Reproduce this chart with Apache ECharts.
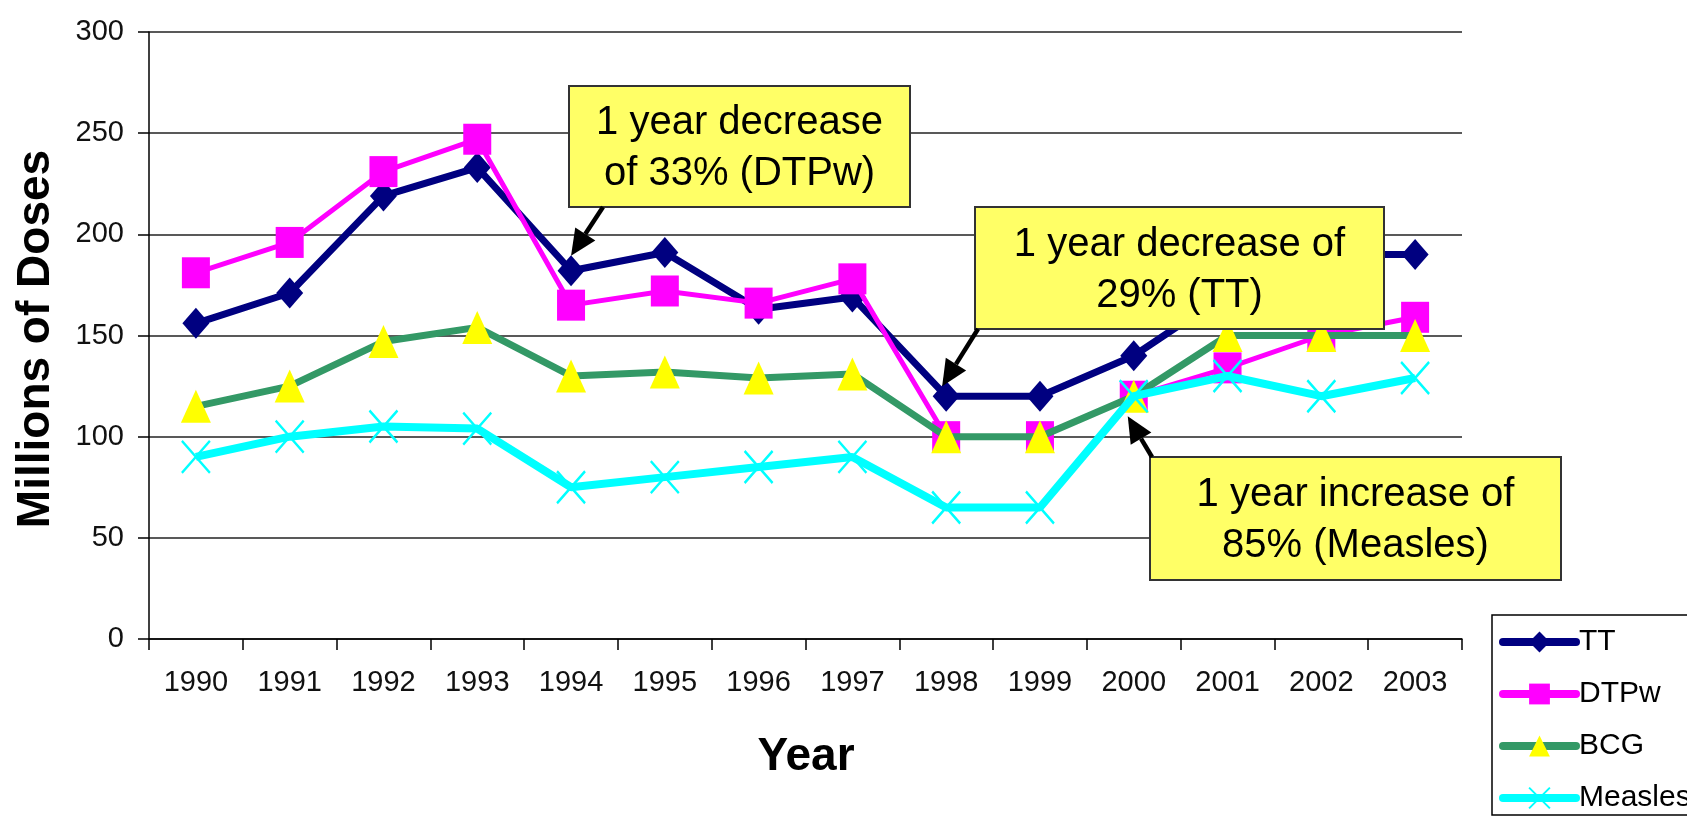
<!DOCTYPE html>
<html>
<head>
<meta charset="utf-8">
<script src="https://cdn.jsdelivr.net/npm/echarts@6/dist/echarts.min.js"></script>
<style>
html,body{margin:0;padding:0;background:#fff;}
#chart{width:1687px;height:821px;}
</style>
</head>
<body>
<div id="chart"></div>
<script>
const categories = ['1990','1991','1992','1993','1994','1995','1996','1997','1998','1999','2000','2001','2002','2003'];
const ttValues      = [156, 171, 219, 233, 182, 191, 163, 169, 120, 120, 140, 171, 190, 190];
const dtpwValues    = [181, 196, 231, 247, 165, 172, 166, 178, 100, 100, 120, 134, 150, 159];
const bcgValues     = [115, 125, 147, 154, 130, 132, 129, 131, 100, 100, 120, 150, 150, 150];
const measlesValues = [90, 100, 105, 104, 75, 80, 85, 90, 65, 65, 120, 130, 120, 129];
const seriesNames = ['TT', 'DTPw', 'BCG', 'Measles'];
const yMin = 0, yMax = 300, yInterval = 50;
const xTitle = 'Year';
const yTitle = 'Millions of Doses';
const note1 = '1 year decrease\nof 33% (DTPw)';
const note2 = '1 year decrease of\n29% (TT)';
const note3 = '1 year increase of\n85% (Measles)';

const FONT = '"Liberation Sans", Arial, Helvetica, sans-serif';
const chart = echarts.init(document.getElementById('chart'), null, {renderer: 'canvas'});

const option = {
  backgroundColor: '#fff',
  animation: false,
  grid: {left: 149, right: 225, top: 32, bottom: 182, containLabel: false},
  legend: {
    orient: 'vertical',
    left: 1492, top: 615,
    padding: [12, 8, 2, 7],
    itemGap: 22,
    itemWidth: 73, itemHeight: 26,
    borderColor: '#000', borderWidth: 1.5,
    backgroundColor: '#fff',
    lineStyle: {width: 8, cap: 'round'},
    textStyle: {fontFamily: FONT, fontSize: 30, color: '#000', padding: [0,0,0,-2]},
    data: seriesNames
  },
  xAxis: {
    type: 'category',
    data: categories,
    boundaryGap: true,
    axisLine: {lineStyle: {color: '#000', width: 1.5}},
    axisTick: {show: true, length: 11, interval: 0, lineStyle: {color: '#000', width: 1.5}},
    axisLabel: {fontFamily: FONT, fontSize: 29, color: '#111', margin: 29, interval: 0},
    splitLine: {show: false}
  },
  yAxis: {
    type: 'value',
    min: yMin, max: yMax, interval: yInterval,
    axisLine: {show: true, lineStyle: {color: '#000', width: 1.5}},
    axisTick: {show: true, length: 11, lineStyle: {color: '#000', width: 1.5}},
    axisLabel: {fontFamily: FONT, fontSize: 29, color: '#111', margin: 25},
    splitLine: {show: true, lineStyle: {color: '#222', width: 1.5}}
  },
  series: [
    {
      name: seriesNames[0], type: 'line', data: ttValues,
      symbol: 'diamond', symbolSize: [27, 31], showAllSymbol: true,
      lineStyle: {color: '#000080', width: 7},
      itemStyle: {color: '#000080'}, z: 2
    },
    {
      name: seriesNames[1], type: 'line', data: dtpwValues,
      symbol: 'rect', symbolSize: [28, 31], showAllSymbol: true,
      lineStyle: {color: '#FF00FF', width: 5},
      itemStyle: {color: '#FF00FF'}, z: 3
    },
    {
      name: seriesNames[2], type: 'line', data: bcgValues,
      symbol: 'triangle', symbolSize: [30, 33], showAllSymbol: true,
      lineStyle: {color: '#339966', width: 7},
      itemStyle: {color: '#FFFF00'}, z: 4
    },
    {
      name: seriesNames[3], type: 'line', data: measlesValues,
      symbol: 'path://M0,0L10,10M10,0L0,10', symbolSize: [28, 32], showAllSymbol: true,
      symbolKeepAspect: false,
      lineStyle: {color: '#00FFFF', width: 8},
      itemStyle: {color: '#00FFFF', borderColor: '#00FFFF', borderWidth: 2.5}, z: 5
    }
  ]
};
chart.setOption(option);

function arrow(x1, y1, x2, y2) {
  const dx = x2 - x1, dy = y2 - y1, L = Math.hypot(dx, dy);
  const ux = dx / L, uy = dy / L, hl = 26, hw = 12;
  const bx = x2 - ux * hl, by = y2 - uy * hl;
  return [
    {type: 'line', z: 100, shape: {x1: x1, y1: y1, x2: bx, y2: by}, style: {stroke: '#000', lineWidth: 4.5}},
    {type: 'polygon', z: 100, shape: {points: [[x2, y2], [bx - uy * hw, by + ux * hw], [bx + uy * hw, by - ux * hw]]}, style: {fill: '#000'}}
  ];
}
function box(x, y, w, h, text) {
  return [
    {type: 'rect', z: 100, shape: {x: x, y: y, width: w, height: h}, style: {fill: '#FFFF66', stroke: '#333', lineWidth: 2}},
    {type: 'text', z: 101, x: x + w / 2, y: y + h / 2 + 2, style: {text: text, align: 'center', verticalAlign: 'middle', font: '40px ' + FONT, lineHeight: 51, fill: '#000'}}
  ];
}
const px = (i, v) => chart.convertToPixel({xAxisIndex: 0, yAxisIndex: 0}, [i, v]);
const p1 = px(4, ttValues[4]);
const p2 = px(8, ttValues[8]);
const p3 = px(10, measlesValues[10]);

const graphics = [].concat(
  box(569, 86, 341, 121, note1),
  arrow(603, 207, p1[0], p1[1] - 15),
  box(975, 207, 409, 122, note2),
  arrow(978, 329, p2[0] - 4, p2[1] - 10),
  box(1150, 457, 411, 123, note3),
  arrow(1152, 457, p3[0] - 6, p3[1] + 20),
  [
    {type: 'text', z: 101, x: 36, y: 339, rotation: Math.PI / 2,
     style: {text: yTitle, align: 'center', verticalAlign: 'middle', font: 'bold 46px ' + FONT, fill: '#000'}},
    {type: 'text', z: 101, x: 806, y: 757,
     style: {text: xTitle, align: 'center', verticalAlign: 'middle', font: 'bold 46px ' + FONT, fill: '#000'}}
  ]
);
chart.setOption({graphic: graphics});
</script>
</body>
</html>
